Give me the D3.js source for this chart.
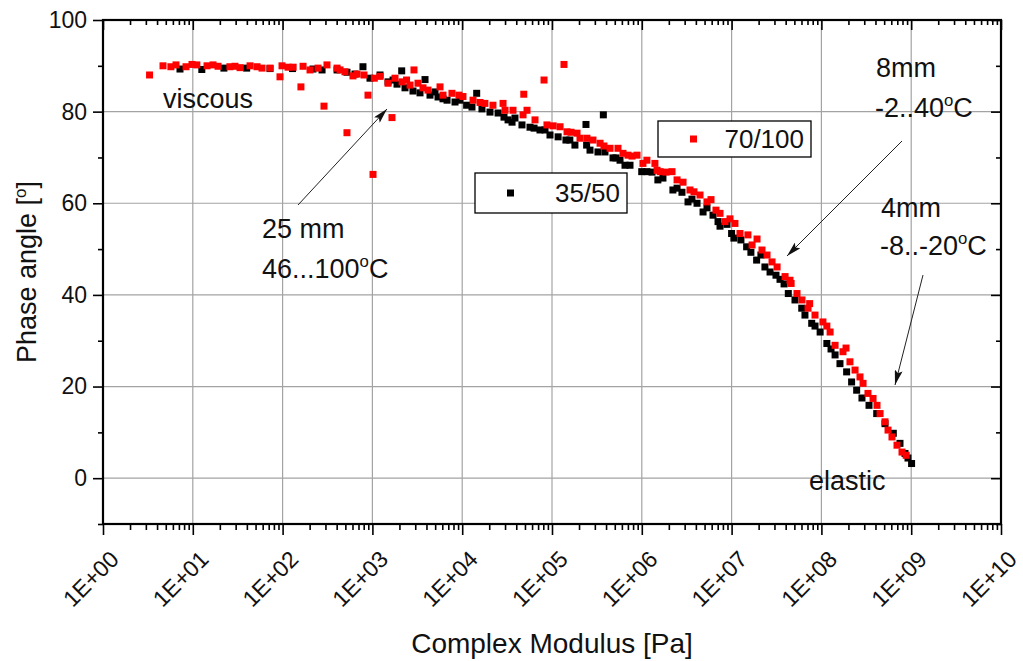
<!DOCTYPE html>
<html>
<head>
<meta charset="utf-8">
<script src="https://cdn.jsdelivr.net/npm/d3@7"></script>
<style>
  html, body { margin: 0; padding: 0; background: #fff; }
  svg { display: block; font-family: "Liberation Sans", Arial, sans-serif; }
</style>
</head>
<body>
<svg id="chart" width="1023" height="661"></svg>
<script>
// ---------------- DATA ----------------
const xTickLabels = ["1E+00","1E+01","1E+02","1E+03","1E+04","1E+05","1E+06","1E+07","1E+08","1E+09","1E+10"];
const yTickValues = [0, 20, 40, 60, 80, 100];

const seriesNames = ["35/50", "70/100"];

// 35/50 : complex modulus [Pa] and phase angle [deg]
const modulus3550 = [7.2, 12.6, 22.2, 39.8, 72.4, 129, 218, 275, 404, 521, 640, 785, 940, 1216, 1493, 1880, 2120, 2307, 2831, 3390, 3855, 4380, 5380, 6780, 8320, 11200, 12850, 14500, 16600, 20400, 25100, 32400, 38700, 46300, 56900, 73500, 95000, 1.17e5, 1.43e5, 1.80e5, 2.39e5, 2.65e5, 3.25e5, 3.73e5, 3.89e5, 4.78e5, 5.72e5, 6.50e5, 7.39e5, 9.98e5, 1.14e6, 1.51e6, 1.72e6, 2.22e6, 2.47e6, 3.27e6, 3.62e6, 4.81e6, 5.32e6, 7.06e6, 7.43e6, 1.00e7, 1.06e7, 1.47e7, 1.64e7, 1.90e7, 2.35e7, 2.68e7, 3.12e7, 3.46e7, 3.84e7, 4.28e7, 5.08e7, 6.04e7, 6.56e7, 7.80e7, 9.68e7, 1.15e8, 1.42e8, 1.61e8, 1.91e8, 2.17e8, 2.47e8, 2.83e8, 3.39e8, 4.13e8, 5.11e8, 6.32e8, 7.50e8, 8.53e8, 9.21e8, 1.01e9,
  1.70e3, 4.98e3, 6.11e3, 9.46e3, 2.92e4, 3.59e4, 6.31e4, 8.36e4, 1.58e5, 2.43e5, 5.16e5, 1.30e6, 2.80e6, 4.12e6, 6.21e6, 8.89e6, 1.27e7, 2.12e7, 8.49e7, 1.28e8];
const phase3550 = [89.3, 89.2, 89.5, 89.5, 89.4, 89.4, 89.3, 89.1, 89.1, 88.6, 88.2, 89.8, 87.3, 88.0, 86.5, 86.0, 88.9, 85.2, 84.5, 84.1, 87.0, 83.6, 83.2, 82.5, 82.1, 81.4, 81.0, 84.0, 80.6, 79.9, 79.7, 78.2, 78.6, 77.1, 76.6, 76.0, 74.9, 74.5, 73.8, 72.7, 77.2, 71.6, 71.2, 79.3, 71.2, 69.9, 69.4, 68.3, 68.3, 66.9, 66.9, 65.1, 65.5, 62.9, 63.3, 60.3, 60.9, 58.1, 59.0, 56.0, 55.0, 53.4, 52.4, 50.5, 49.3, 47.6, 46.1, 45.0, 44.3, 43.4, 42.4, 40.3, 38.9, 37.1, 35.6, 33.8, 31.9, 29.4, 26.9, 25.0, 23.2, 21.0, 19.2, 17.5, 15.9, 14.1, 11.9, 9.8, 7.6, 5.4, 4.4, 3.2,
  86.9, 84.3, 82.8, 82.5, 78.8, 77.7, 76.4, 76.0, 73.8, 72.7, 69.9, 66.8, 62.4, 60.0, 57.4, 55.4, 52.0, 48.7, 33.2, 28.2];

// 70/100
const modulus70100 = [3.3, 5.7, 6.5, 9.8, 11.1, 16.8, 19.1, 29.5, 33.6, 51.9, 59, 93.5, 98.5, 115, 160, 169, 202, 289, 312, 404, 495, 521, 608, 674, 893, 1016, 1050, 1216, 1493, 1652, 1786, 2400, 2626, 2904, 3219, 4160, 5662, 6113, 7690, 10200, 13200, 17900, 22000, 28500, 30000, 36800, 47600, 48500, 64700, 81500, 87900, 1.23e5, 1.36e5, 1.47e5, 1.90e5, 2.05e5, 2.86e5, 3.43e5, 4.43e5, 5.43e5, 6.18e5, 7.02e5, 8.85e5, 1.03e6, 1.14e6, 1.40e6, 1.48e6, 1.60e6, 2.17e6, 2.47e6, 3.44e6, 3.81e6, 5.32e6, 5.90e6, 7.43e6, 8.45e6, 1.09e7, 1.24e7, 1.52e7, 1.69e7, 2.18e7, 2.82e7, 3.21e7, 3.94e7, 4.6e7, 5.35e7, 6.08e7, 7.10e7, 7.40e7, 8.49e7, 1.04e8, 1.25e8, 1.42e8, 1.74e8, 2.08e8, 2.37e8, 2.69e8, 2.91e8, 3.30e8, 3.76e8, 4.16e8, 4.50e8, 5.11e8, 5.52e8, 6.11e8, 6.95e8, 7.90e8, 8.79e8,
  4.66, 8.4, 14.4, 25.9, 43.4, 72.4, 131, 248, 436, 806, 2.14e3, 3.66e3, 9.2e3, 1.58e4, 5.27e4, 1.03e5, 1.63e5, 2.45e5, 3.79e5, 7.78e5, 1.86e6, 2.88e6, 4.45e6, 6.70e6, 9.6e6, 1.92e7, 2.48e7, 4.47e7, 1.15e8, 1.88e8];
const phase70100 = [88.0, 89.8, 90.2, 90.3, 90.2, 90.2, 89.9, 89.9, 89.6, 89.8, 89.5, 87.6, 90.0, 89.7, 85.4, 89.9, 89.1, 81.2, 90.2, 89.5, 88.7, 75.4, 87.8, 88.2, 83.6, 66.3, 87.3, 87.7, 86.2, 78.7, 87.3, 86.9, 85.8, 89.1, 86.2, 84.7, 85.4, 83.6, 84.0, 83.3, 82.5, 81.8, 81.4, 81.8, 80.3, 80.3, 79.3, 83.8, 78.2, 86.9, 77.1, 76.7, 90.3, 75.6, 75.3, 74.2, 73.8, 73.1, 72.0, 72.0, 70.9, 70.5, 70.5, 68.7, 69.4, 68.7, 67.2, 66.9, 66.9, 65.1, 62.9, 62.5, 60.3, 60.8, 57.8, 56.0, 55.6, 53.4, 53.1, 50.9, 49.8, 47.2, 46.1, 44.0, 42.5, 40.3, 38.9, 37.1, 38.1, 35.6, 34.1, 31.9, 29.0, 27.6, 25.4, 23.6, 22.1, 20.7, 18.5, 17.4, 15.9, 14.1, 12.3, 10.5, 9.0, 7.2, 5.7, 5.0,
  90.0, 89.8, 90.0, 89.8, 90.0, 89.5, 89.7, 89.5, 89.1, 88.0, 86.5, 85.2, 83.6, 82.0, 80.3, 76.9, 75.5, 74.2, 72.5, 70.3, 66.8, 64.6, 61.8, 58.5, 56.6, 52.2, 48.7, 43.2, 33.2, 28.4];

// ---------------- CHART ----------------
const svg = d3.select("#chart");
const L = 103, R = 1001, T = 20, B = 524;
const x = d3.scaleLog().domain([1, 1e10]).range([L, R]);
const y = d3.scaleLinear().domain([-10, 100]).range([B, T]);

const decades = d3.range(0, 11).map(k => Math.pow(10, k));
const minorX = [];
for (let k = 0; k < 10; k++) for (let m = 2; m <= 9; m++) minorX.push(m * Math.pow(10, k));
const minorY = [-10, 10, 30, 50, 70, 90];

const grid = svg.append("g").attr("stroke", "#a3a3a3").attr("stroke-width", 1.2);
grid.selectAll(".gx").data(decades.slice(1, -1)).join("line")
  .attr("x1", d => x(d)).attr("x2", d => x(d)).attr("y1", T).attr("y2", B);
grid.selectAll(".gy").data(yTickValues.filter(v => v < 100)).join("line")
  .attr("x1", L).attr("x2", R).attr("y1", d => y(d)).attr("y2", d => y(d));

// axes with d3 axis generators
const fontTick = 23;
const xAxisB = d3.axisBottom(x).tickValues(decades).tickSize(11).tickFormat((d, i) => xTickLabels[i]);
const gxB = svg.append("g").attr("transform", `translate(0,${B})`).call(xAxisB);
gxB.selectAll("text").attr("font-size", fontTick).attr("fill", "#111")
  .attr("text-anchor", "end").attr("dy", "0.35em")
  .attr("transform", "translate(11,31) rotate(-45)").attr("y", 0).attr("x", 0);
svg.append("g").attr("transform", `translate(0,${B})`)
  .call(d3.axisBottom(x).tickValues(minorX).tickSize(6).tickFormat(""));

svg.append("g").attr("transform", `translate(0,${T})`)
  .call(d3.axisBottom(x).tickValues(decades).tickSize(10).tickFormat(""));
svg.append("g").attr("transform", `translate(0,${T})`)
  .call(d3.axisBottom(x).tickValues(minorX).tickSize(5).tickFormat(""));

const gyL = svg.append("g").attr("transform", `translate(${L},0)`)
  .call(d3.axisLeft(y).tickValues(yTickValues).tickSize(10).tickPadding(6));
gyL.selectAll("text").attr("font-size", fontTick).attr("fill", "#111");
svg.append("g").attr("transform", `translate(${L},0)`)
  .call(d3.axisLeft(y).tickValues(minorY).tickSize(5).tickFormat(""));
svg.append("g").attr("transform", `translate(${R},0)`)
  .call(d3.axisLeft(y).tickValues(yTickValues).tickSize(10).tickFormat(""));
svg.append("g").attr("transform", `translate(${R},0)`)
  .call(d3.axisLeft(y).tickValues(minorY).tickSize(5).tickFormat(""));

svg.selectAll(".domain").remove();
svg.selectAll(".tick line").attr("stroke", "#000").attr("stroke-width", 1.6);

// frame
svg.append("rect").attr("x", L).attr("y", T).attr("width", R - L).attr("height", B - T)
  .attr("fill", "none").attr("stroke", "#000").attr("stroke-width", 2.2);

// data points
const sq = 7;
const s1 = modulus3550.map((m, i) => ({ m, p: phase3550[i] }));
const s2 = modulus70100.map((m, i) => ({ m, p: phase70100[i] }));
svg.append("g").selectAll("rect").data(s1).join("rect")
  .attr("x", d => x(d.m) - sq / 2).attr("y", d => y(d.p) - sq / 2)
  .attr("width", sq).attr("height", sq).attr("fill", "#000");
svg.append("g").selectAll("rect").data(s2).join("rect")
  .attr("x", d => x(d.m) - sq / 2).attr("y", d => y(d.p) - sq / 2)
  .attr("width", sq).attr("height", sq).attr("fill", "#ff0000");

// legends (two boxes)
function legendBox(bx, by, bw, bh, color, label) {
  const g = svg.append("g");
  g.append("rect").attr("x", bx).attr("y", by).attr("width", bw).attr("height", bh)
    .attr("fill", "#fff").attr("stroke", "#000").attr("stroke-width", 1.3);
  g.append("rect").attr("x", bx + 32).attr("y", by + bh / 2 - 3.5).attr("width", 7).attr("height", 7).attr("fill", color);
  g.append("text").attr("x", bx + bw - 7).attr("y", by + bh / 2 + 9).attr("text-anchor", "end")
    .attr("font-size", 26).attr("fill", "#111").text(label);
}
legendBox(475, 173, 152, 40, "#000", seriesNames[0]);
legendBox(658, 121, 153, 36, "#ff0000", seriesNames[1]);

// annotations
const annFont = 27;
function ann(tx, ty, parts) {
  const t = svg.append("text").attr("x", tx).attr("y", ty).attr("font-size", annFont).attr("fill", "#111");
  parts.forEach(p => {
    if (p.sup) t.append("tspan").attr("font-size", annFont * 0.62).attr("dy", -11).text(p.t);
    else if (p.after) t.append("tspan").attr("dy", 11).text(p.t);
    else t.append("tspan").text(p.t);
  });
}
ann(163, 108, [{ t: "viscous" }]);
ann(262, 238, [{ t: "25 mm" }]);
ann(262, 278, [{ t: "46...100" }, { t: "o", sup: true }, { t: "C", after: true }]);
ann(876, 77, [{ t: "8mm" }]);
ann(875, 117, [{ t: "-2..40" }, { t: "o", sup: true }, { t: "C", after: true }]);
ann(881, 217, [{ t: "4mm" }]);
ann(880, 255, [{ t: "-8..-20" }, { t: "o", sup: true }, { t: "C", after: true }]);
ann(809, 490, [{ t: "elastic" }]);

// arrows
const defs = svg.append("defs");
defs.append("marker").attr("id", "ah").attr("markerUnits", "userSpaceOnUse")
  .attr("markerWidth", 16).attr("markerHeight", 8).attr("refX", 15).attr("refY", 4)
  .attr("orient", "auto")
  .append("path").attr("d", "M0,0 L15,4 L0,8 L3,4 Z").attr("fill", "#111");
const arrows = [[298, 205, 387, 109], [902, 141, 787, 256], [923, 275, 895, 385]];
svg.append("g").selectAll("line").data(arrows).join("line")
  .attr("x1", d => d[0]).attr("y1", d => d[1]).attr("x2", d => d[2]).attr("y2", d => d[3])
  .attr("stroke", "#222").attr("stroke-width", 1).attr("marker-end", "url(#ah)");

// axis titles
svg.append("text").attr("x", (L + R) / 2).attr("y", 653).attr("text-anchor", "middle")
  .attr("font-size", 28).attr("fill", "#111").text("Complex Modulus [Pa]");
const yt = svg.append("text").attr("transform", "translate(36,272) rotate(-90)")
  .attr("text-anchor", "middle").attr("font-size", 27).attr("fill", "#111");
yt.append("tspan").text("Phase angle [");
yt.append("tspan").attr("font-size", 17).attr("dy", -10).text("o");
yt.append("tspan").attr("dy", 10).text("]");
</script>
</body>
</html>
